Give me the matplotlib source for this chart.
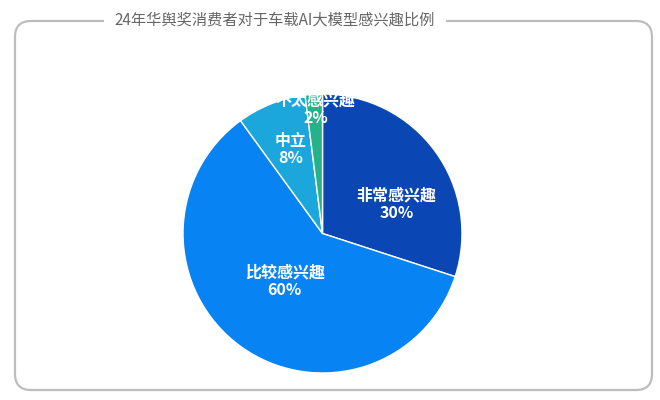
import matplotlib
matplotlib.use("Agg")
import matplotlib.pyplot as plt
from matplotlib.patches import FancyBboxPatch
import numpy as np

plt.rcParams['font.family'] = ['Noto Sans CJK SC', 'DejaVu Sans']

title = "24年华舆奖消费者对于车载AI大模型感兴趣比例"
categories = ["非常感兴趣", "比较感兴趣", "中立", "不太感兴趣"]
values = [30, 60, 8, 2]
colors = ["#0b47b4", "#0783f3", "#1ca7dc", "#25b28b"]
# label offsets (in pie-radius units) relative to pie centre
label_pos = [(0.53, 0.21), (-0.27, -0.34), (-0.23, 0.60), (-0.05, 0.89)]

fig = plt.figure(figsize=(6.6, 4), dpi=100)

# background / frame axes in pixel coordinates
bg = fig.add_axes([0, 0, 1, 1])
bg.set_xlim(0, 660)
bg.set_ylim(400, 0)
bg.axis("off")
frame = FancyBboxPatch((15, 21), 637, 369,
                       boxstyle="round,pad=0,rounding_size=16",
                       facecolor="white", edgecolor="#bdbdbd", linewidth=1.6)
bg.add_patch(frame)
bg.text(275, 20, title, ha="center", va="center", fontsize=11, color="#666666",
        bbox=dict(facecolor="white", edgecolor="none", pad=8))

# pie axes
ax = fig.add_axes([0.2773, 0.0675, 0.4227, 0.6975])
wedges, _ = ax.pie(values, colors=colors, startangle=90, counterclock=False,
                   radius=1.0, wedgeprops=dict(edgecolor="white", linewidth=1.0))
ax.set_xlim(-1, 1)
ax.set_ylim(-1, 1)
ax.set_aspect("equal")
ax.axis("off")

for cat, v, (lx, ly) in zip(categories, values, label_pos):
    ax.text(lx, ly, f"{cat}\n{v}%", ha="center", va="center", fontsize=11.5,
            color="white", fontweight="bold", linespacing=1.1)

fig.savefig("out.png", dpi=100)
